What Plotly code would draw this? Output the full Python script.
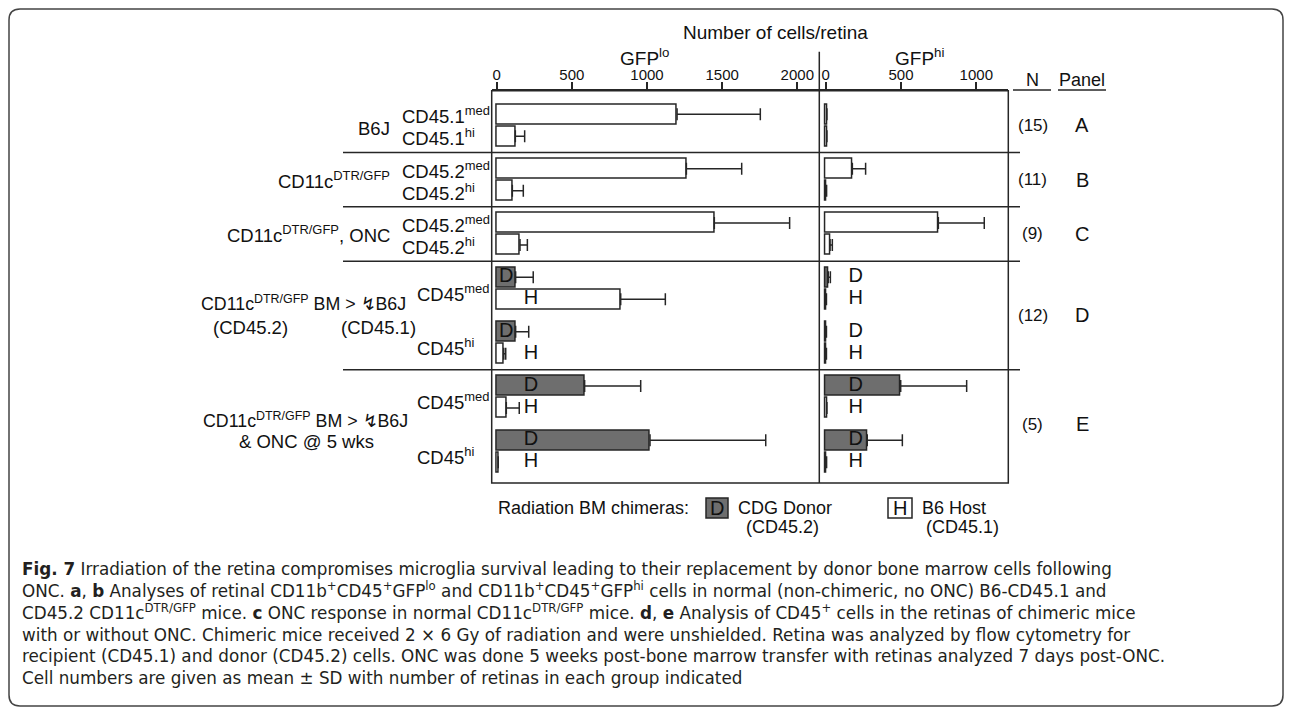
import plotly.graph_objects as go

# The page adds an 8px body margin; the figure is sized to fit inside it.
PAGE_W, PAGE_H = 1292, 715
OX, OY = 8, 8
W, H = PAGE_W - 2 * OX, PAGE_H - 2 * OY

# ---------------- data ----------------
groups = ["A", "B", "C", "D", "E"]
group_n = ["(15)", "(11)", "(9)", "(12)", "(5)"]
group_names = ["B6J", "CD11c<sup>DTR/GFP</sup>", "CD11c<sup>DTR/GFP</sup>, ONC",
               "CD11c<sup>DTR/GFP</sup> BM > ↯B6J", "CD11c<sup>DTR/GFP</sup> BM > ↯B6J"]
group_pairs = [[0], [1], [2], [3, 4], [5, 6]]

row_labels = ["CD45.1<sup>med</sup>", "CD45.1<sup>hi</sup>",
              "CD45.2<sup>med</sup>", "CD45.2<sup>hi</sup>",
              "CD45.2<sup>med</sup>", "CD45.2<sup>hi</sup>",
              "", "", "", "", "", "", "", ""]
pair_labels = ["", "", "", "CD45<sup>med</sup>", "CD45<sup>hi</sup>",
               "CD45<sup>med</sup>", "CD45<sup>hi</sup>"]
source = ["", "", "", "", "", "", "D", "H", "D", "H", "D", "H", "D", "H"]

# GFP lo (cells/retina): mean and SD
lo_mean = [1200, 124, 1262, 104, 1448, 155, 126, 825, 126, 47, 585, 64, 1020, 10]
lo_sd = [554, 62, 368, 73, 501, 49, 117, 297, 87, 13, 373, 86, 770, None]
# GFP hi (cells/retina): mean and SD
hi_mean = [8, 8, 177, 6, 748, 29, 17, 5, 5, 5, 498, 8, 276, 6]
hi_sd = [None, None, 88, None, 305, 15, 14, None, None, None, 438, None, 233, None]

lo_ticks = [0, 500, 1000, 1500, 2000]
hi_ticks = [0, 500, 1000]

# ---------------- layout helpers ----------------
PITCH = 2.47          # distance between pairs of bars (row units)
ypos = [(i // 2) * PITCH + (i % 2) for i in range(len(lo_mean))]
pair_mid = [k * PITCH + 0.5 for k in range(7)]

DARK = "#6e6e6e"
LINE = "#262626"
FONT = "Liberation Sans"
fills = [DARK if s == "D" else "white" for s in source]


def px(x):
    return (x - OX) / W


def py(y):
    return 1 - (y - OY) / H


fig = go.Figure()

fig.add_trace(go.Bar(
    orientation="h", x=lo_mean, y=ypos, width=0.9, xaxis="x", yaxis="y",
    marker=dict(color=fills, line=dict(color=LINE, width=1.5)),
    error_x=dict(type="data", array=lo_sd, arrayminus=[0] * len(lo_sd),
                 symmetric=False, color=LINE, thickness=1.5, width=6),
    hoverinfo="skip", showlegend=False))

fig.add_trace(go.Bar(
    orientation="h", x=hi_mean, y=ypos, width=0.9, xaxis="x2", yaxis="y",
    marker=dict(color=fills, line=dict(color=LINE, width=1.5)),
    error_x=dict(type="data", array=hi_sd, arrayminus=[0] * len(hi_sd),
                 symmetric=False, color=LINE, thickness=1.5, width=6),
    hoverinfo="skip", showlegend=False))

# D / H letters on bars
lo_lab_x = []
for i, s in enumerate(source):
    if s == "D" and i < 10:
        lo_lab_x.append(lo_mean[i] / 2)
    else:
        lo_lab_x.append(228)
sel = [i for i, s in enumerate(source) if s]
fig.add_trace(go.Scatter(
    x=[lo_lab_x[i] for i in sel], y=[ypos[i] for i in sel],
    text=[source[i] for i in sel], mode="text", xaxis="x", yaxis="y",
    textfont=dict(family=FONT, size=20, color="#111"),
    hoverinfo="skip", showlegend=False))
fig.add_trace(go.Scatter(
    x=[199] * len(sel), y=[ypos[i] for i in sel],
    text=[source[i] for i in sel], mode="text", xaxis="x2", yaxis="y",
    textfont=dict(family=FONT, size=20, color="#111"),
    hoverinfo="skip", showlegend=False))

axis_common = dict(side="top", anchor="y", ticks="outside", ticklen=7,
                   tickwidth=1.5, tickcolor=LINE, showline=True,
                   linecolor=LINE, linewidth=1.5, showgrid=False,
                   zeroline=False, fixedrange=True, ticklabelstandoff=-4,
                   tickfont=dict(family=FONT, size=15, color="#111"))

fig.update_layout(
    width=W, height=H, margin=dict(l=0, r=0, t=0, b=0),
    paper_bgcolor="white", plot_bgcolor="rgba(0,0,0,0)",
    xaxis=dict(domain=[px(491.7), px(819.3)], range=[-33.3, 2146.4],
               tickvals=lo_ticks, **axis_common),
    xaxis2=dict(domain=[px(819.3), px(1008.3)], range=[-42.5, 1212.5],
                tickvals=hi_ticks, **axis_common),
    yaxis=dict(domain=[py(483), py(90.7)], range=[16.76, -1.073],
               visible=False, fixedrange=True),
    bargap=0,
)

shapes = []
# outer rounded frame
r = 11
x0, x1, y0, y1 = 9, 1283, 9, 706
path = (f"M {px(x0 + r)},{py(y0)} L {px(x1 - r)},{py(y0)} "
        f"Q {px(x1)},{py(y0)} {px(x1)},{py(y0 + r)} "
        f"L {px(x1)},{py(y1 - r)} Q {px(x1)},{py(y1)} {px(x1 - r)},{py(y1)} "
        f"L {px(x0 + r)},{py(y1)} Q {px(x0)},{py(y1)} {px(x0)},{py(y1 - r)} "
        f"L {px(x0)},{py(y0 + r)} Q {px(x0)},{py(y0)} {px(x0 + r)},{py(y0)} Z")
shapes.append(dict(type="path", path=path, xref="paper", yref="paper",
                   line=dict(color="#444", width=1.5)))
# chart frame
shapes.append(dict(type="rect", xref="paper", yref="paper",
                   x0=px(491.7), x1=px(1008.3), y0=py(483), y1=py(90.7),
                   line=dict(color=LINE, width=1.5)))
# divider between the two panels
shapes.append(dict(type="line", xref="paper", yref="paper",
                   x0=px(819.3), x1=px(819.3), y0=py(483), y1=py(51.7),
                   line=dict(color=LINE, width=1.5)))
# group separators
for g in range(len(groups) - 1):
    last_pair = group_pairs[g][-1]
    ysep = last_pair * PITCH + 1 + (PITCH - 1) / 2
    shapes.append(dict(type="line", xref="paper", yref="y",
                       x0=px(343), x1=px(1020), y0=ysep, y1=ysep,
                       line=dict(color=LINE, width=1.5)))
# N / Panel underlines
for a, b in [(1013, 1051), (1058, 1106)]:
    shapes.append(dict(type="line", xref="paper", yref="paper",
                       x0=px(a), x1=px(b), y0=py(90), y1=py(90),
                       line=dict(color=LINE, width=1.5)))
# legend boxes
shapes.append(dict(type="rect", xref="paper", yref="paper",
                   x0=px(706), x1=px(728), y0=py(518), y1=py(498),
                   fillcolor=DARK, line=dict(color=LINE, width=1.5)))
shapes.append(dict(type="rect", xref="paper", yref="paper",
                   x0=px(888), x1=px(912), y0=py(518), y1=py(498),
                   fillcolor="white", line=dict(color=LINE, width=1.5)))

ann = []


def text(x, y, s, size=18.5, xanchor="center", yref="paper", color="#111",
         family=FONT, yanchor="middle"):
    ann.append(dict(x=px(x), y=(py(y) if yref == "paper" else y),
                    xref="paper", yref=yref, text=s, showarrow=False,
                    xanchor=xanchor, yanchor=yanchor, align="left",
                    font=dict(family=family, size=size, color=color)))


# titles
text(775.5, 33, "Number of cells/retina", size=19)
text(644, 57, "GFP<sup>lo</sup>", size=19)
text(919.5, 57, "GFP<sup>hi</sup>", size=19)
text(1032, 80, "N", size=18)
text(1082, 80, "Panel", size=18)

# row labels
for i, lab in enumerate(row_labels):
    if lab:
        text(400, ypos[i] + 0.05, lab, xanchor="left", yref="y")
for k, lab in enumerate(pair_labels):
    if lab:
        text(415, pair_mid[k] + 0.2, lab, xanchor="left", yref="y")

# group labels, N and panel letters
for g, name in enumerate(group_names):
    pairs = group_pairs[g]
    gmid = (pairs[0] * PITCH + pairs[-1] * PITCH + 1) / 2
    if g < 3:
        text(392, gmid + (0.15 if g == 0 else 0.0), name, xanchor="right",
             yref="y")
    elif g == 3:
        text(199, gmid - 0.55, name, size=17.8, xanchor="left", yref="y")
        text(250.5, gmid + 0.55, "(CD45.2)", yref="y")
        text(378.5, gmid + 0.55, "(CD45.1)", yref="y")
    else:
        text(201, gmid - 0.2, name, size=17.8, xanchor="left", yref="y")
        text(306, gmid + 0.8, "& ONC @ 5 wks", yref="y")
    text(1032.5, gmid, group_n[g], size=17, yref="y")
    text(1082, gmid, groups[g], size=20, yref="y")

# legend
text(496, 508, "Radiation BM chimeras:", size=18, xanchor="left")
text(717, 508, "D", size=20)
text(736, 508, "CDG Donor", size=18, xanchor="left")
text(782, 527, "(CD45.2)", size=18)
text(900, 508, "H", size=20)
text(920, 508, "B6 Host", size=18, xanchor="left")
text(962, 527, "(CD45.1)", size=18)

# caption (one multi-line block)
cap = [
    "<b>Fig. 7</b> Irradiation of the retina compromises microglia survival leading to their replacement by donor bone marrow cells following",
    "ONC. <b>a</b>, <b>b</b> Analyses of retinal CD11b<sup>+</sup>CD45<sup>+</sup>GFP<sup>lo</sup> and CD11b<sup>+</sup>CD45<sup>+</sup>GFP<sup>hi</sup> cells in normal (non-chimeric, no ONC) B6-CD45.1 and",
    "CD45.2 CD11c<sup>DTR/GFP</sup> mice. <b>c</b> ONC response in normal CD11c<sup>DTR/GFP</sup> mice. <b>d</b>, <b>e</b> Analysis of CD45<sup>+</sup> cells in the retinas of chimeric mice",
    "with or without ONC. Chimeric mice received 2 × 6 Gy of radiation and were unshielded. Retina was analyzed by flow cytometry for",
    "recipient (CD45.1) and donor (CD45.2) cells. ONC was done 5 weeks post-bone marrow transfer with retinas analyzed 7 days post-ONC.",
    "Cell numbers are given as mean ± SD with number of retinas in each group indicated",
]
text(20, 557, "<br>".join(cap), size=16.8, xanchor="left", yanchor="top",
     color="#231f20", family="DejaVu Sans")

fig.update_layout(shapes=shapes, annotations=ann)
fig.write_html("out.html")
